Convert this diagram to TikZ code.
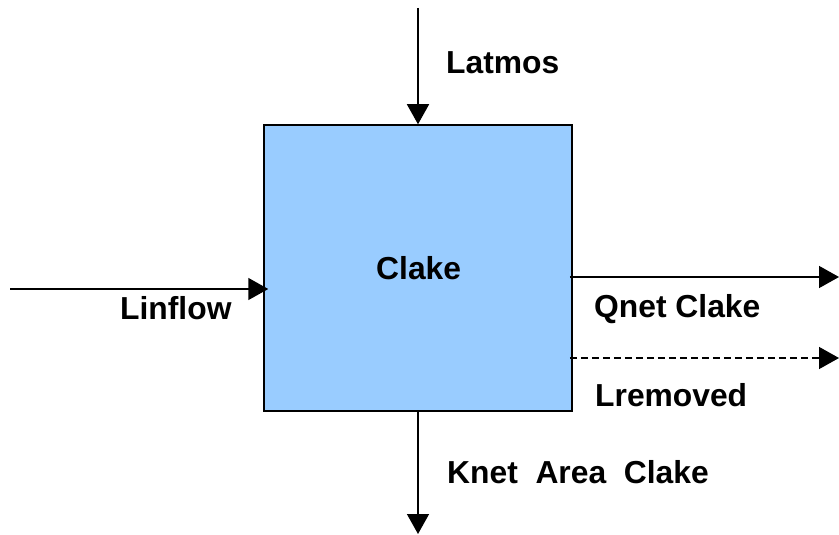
\documentclass[tikz,border=0pt]{standalone}
\usepackage{fontspec}
\setmainfont{Liberation Sans}
\usetikzlibrary{arrows.meta}
\definecolor{lakeblue}{HTML}{99CCFF}
\tikzset{
  lakebox/.style={draw=black, line width=1.5pt, fill=lakeblue, minimum width=308pt, minimum height=286pt, inner sep=0pt},
  flow/.style={line width=1.5pt, -{Triangle[length=20pt,width=22pt]}},
  dflow/.style={flow, dash pattern=on 7pt off 4pt},
  lbl/.style={anchor=base west, inner sep=0pt, font=\fontsize{31.8}{38}\selectfont\bfseries}
}
\begin{document}
\begin{tikzpicture}[x=1pt,y=-1pt]
\useasboundingbox (0,0) rectangle (839,535);
\node[lakebox] (lake) at (418,268) {};
\coordinate (topS) at (418,8);
\coordinate (botE) at (418,534);
\coordinate (leftS) at (10,289);
\coordinate (qE) at (839,277);
\coordinate (rE) at (839,358);
\draw[flow] (topS) -- (lake.north);
\draw[flow] (lake.south) -- (botE);
\draw[flow] (leftS) -- ([xshift=5pt]leftS -| lake.west);
\draw[flow] ([xshift=-3pt]lake.east |- qE) -- (qE);
\draw[dflow] ([xshift=-3pt]lake.east |- rE) -- (rE);
\node[lbl] (latmos) at (446,73.5) {Latmos};
\node[lbl] (clake) at (376,279) {Clake};
\node[lbl] (linflow) at (120,319.5) {Linflow};
\node[lbl] (qnet) at (594,317.5) {Qnet Clake};
\node[lbl] (lrem) at (595,406) {Lremoved};
\node[lbl] (knet) at (447,483.5) {Knet\ \ Area\ \ Clake};
\end{tikzpicture}
\end{document}
